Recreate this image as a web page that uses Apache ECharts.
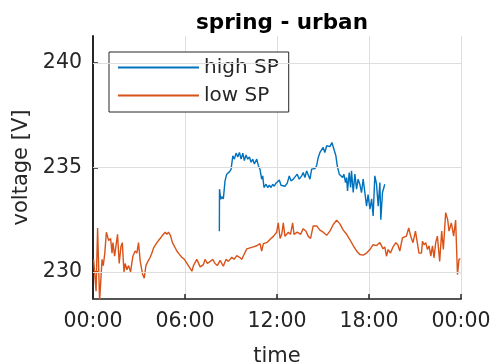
<!DOCTYPE html>
<html>
<head>
<meta charset="utf-8">
<script src="https://cdn.jsdelivr.net/npm/echarts@6/dist/echarts.min.js"></script>
<style>html,body{margin:0;padding:0;background:#fff}#c{width:494px;height:364px}</style>
</head>
<body>
<div id="c"></div>
<script>
// time in hours since midnight
var lowTime = [0.04,0.20,0.30,0.43,0.59,0.67,0.77,0.87,1.02,1.15,1.24,1.30,1.41,1.52,1.60,1.71,1.82,1.91,2.02,2.10,2.21,2.32,2.45,2.60,2.75,2.86,2.97,3.08,3.23,3.34,3.45,3.58,3.73,3.84,3.95,4.06,4.17,4.27,4.38,4.53,4.71,4.82,4.92,5.05,5.18,5.31,5.47,5.62,5.79,5.96,6.22,6.45,6.55,6.77,6.99,7.20,7.31,7.46,7.64,7.81,7.96,8.11,8.29,8.50,8.68,8.83,9.05,9.20,9.38,9.55,9.70,9.85,10.03,10.24,10.46,10.68,10.89,11.00,11.11,11.33,11.54,11.76,11.87,11.98,12.08,12.20,12.31,12.41,12.52,12.74,12.88,13.02,13.11,13.32,13.54,13.71,13.89,14.04,14.19,14.36,14.59,14.80,15.01,15.24,15.45,15.67,15.89,16.10,16.32,16.54,16.75,16.97,17.19,17.40,17.62,17.84,18.06,18.27,18.49,18.71,18.92,19.03,19.14,19.25,19.40,19.57,19.75,19.88,20.01,20.18,20.31,20.44,20.59,20.72,20.87,21.03,21.14,21.26,21.42,21.49,21.59,21.70,21.81,21.92,22.03,22.14,22.24,22.35,22.46,22.61,22.74,22.85,23.00,23.13,23.22,23.37,23.52,23.65,23.77,23.87,23.96];
var lowVolt = [230.6,229.07,232.1,228.6,230.6,230.3,230.9,231.9,231.5,231.6,230.9,231.4,230.75,230.8,231.8,230.4,231.2,231.4,230.0,230.4,230.1,230.3,230.0,230.75,231.0,230.9,231.4,230.5,229.9,229.7,230.3,230.5,230.7,230.9,231.15,231.1,231.4,231.5,231.6,231.75,231.9,231.8,231.9,231.75,231.4,231.4,231.0,230.85,230.7,230.6,230.3,230.03,230.3,230.6,230.24,230.35,230.6,230.4,230.5,230.6,230.4,230.3,230.55,230.27,230.6,230.5,230.7,230.6,230.78,230.7,230.6,230.83,231.1,231.15,231.2,231.25,231.35,231.0,231.35,231.4,231.55,231.7,231.7,231.9,232.35,231.6,231.8,232.35,231.7,231.9,231.8,232.35,231.8,231.9,231.8,232.07,231.95,231.7,231.6,232.2,232.2,232.0,231.9,231.75,231.95,232.27,232.48,232.3,232.0,231.8,231.55,231.26,231.0,230.83,230.8,230.9,231.07,231.3,231.26,231.4,231.1,231.2,230.75,231.07,230.9,231.2,231.4,231.3,231.0,231.63,231.55,231.71,232.1,231.71,231.4,231.95,231.9,230.9,230.9,231.47,231.3,231.4,231.07,231.25,230.75,231.25,230.67,231.4,231.71,230.5,231.95,231.07,232.84,232.5,231.95,232.35,231.71,232.48,229.87,230.6,230.63];
var highTime = [8.24,8.25,8.33,8.40,8.50,8.61,8.72,8.89,9.00,9.12,9.22,9.33,9.44,9.55,9.66,9.77,9.87,9.98,10.09,10.20,10.31,10.42,10.52,10.68,10.78,10.89,11.00,11.07,11.15,11.28,11.39,11.50,11.61,11.72,11.82,11.93,12.05,12.15,12.26,12.37,12.52,12.67,12.80,12.91,13.06,13.17,13.32,13.45,13.61,13.71,13.82,13.93,14.04,14.15,14.26,14.36,14.47,14.58,14.69,14.80,14.91,15.01,15.12,15.24,15.34,15.45,15.58,15.71,15.84,15.93,16.06,16.17,16.28,16.36,16.47,16.54,16.60,16.71,16.80,16.86,16.97,17.08,17.19,17.29,17.40,17.51,17.62,17.73,17.84,17.94,18.06,18.17,18.27,18.38,18.49,18.60,18.71,18.77,18.88,19.03];
var highVolt = [231.95,233.96,233.48,233.6,233.5,234.36,234.68,234.79,234.9,235.56,235.4,235.69,235.5,235.72,235.4,235.69,235.33,235.6,235.4,235.5,235.25,235.4,235.17,235.4,235.1,234.92,234.44,234.6,234.04,234.2,234.04,234.15,234.04,234.2,234.1,234.25,234.2,234.4,234.15,234.2,234.1,234.25,234.6,234.36,234.44,234.4,234.68,234.44,234.6,234.76,234.52,234.84,234.76,234.44,234.92,234.84,234.95,235.08,235.48,235.72,235.64,235.96,235.72,236.04,236.12,236.0,236.2,236.12,235.56,235.08,234.68,234.76,234.52,234.68,234.28,234.52,233.88,234.76,234.04,234.84,233.8,234.68,233.96,234.44,234.2,233.8,234.44,233.8,233.15,233.7,233.0,233.5,232.68,234.6,234.2,233.15,234.28,232.5,233.8,234.2];
var xTickLabels = ['00:00','06:00','12:00','18:00','00:00'];
var yTicks = [230, 235, 240];
var seriesNames = ['high SP', 'low SP'];

function pairs(t, v) { return t.map(function (x, i) { return [x, v[i]]; }); }

var FONT = '"DejaVu Sans", sans-serif';
var TXT = '#262626';
var chart = echarts.init(document.getElementById('c'), null, {renderer: 'canvas'});
chart.setOption({
  animation: false,
  backgroundColor: '#fff',
  title: {
    text: 'spring - urban', left: 277, top: 7, textAlign: 'center',
    textStyle: {fontFamily: FONT, fontSize: 21.5, fontWeight: 'bold', color: '#000'}
  },
  grid: {left: 93, right: 33, top: 36, bottom: 65, outerBoundsMode: 'none', containLabel: false},
  legend: {
    orient: 'vertical', left: 109, top: 52,
    data: seriesNames,
    itemWidth: 81, itemHeight: 14, itemGap: 7,
    padding: [5, 10, 6, 8],
    backgroundColor: '#fff', borderColor: '#262626', borderWidth: 1,
    itemStyle: {color: 'rgba(0,0,0,0)', borderColor: 'rgba(0,0,0,0)', borderWidth: 0},
    textStyle: {fontFamily: FONT, fontSize: 20, color: TXT, lineHeight: 21, padding: [0, 0, 0, 0]}
  },
  xAxis: {
    type: 'value', min: 0, max: 24, interval: 6,
    name: 'time', nameLocation: 'middle', nameGap: 47,
    nameTextStyle: {fontFamily: FONT, fontSize: 21, color: TXT},
    axisLine: {show: true, onZero: false, lineStyle: {color: '#555', width: 2}},
    axisTick: {show: true, inside: true, length: 5, lineStyle: {color: '#262626', width: 1.5}},
    axisLabel: {
      margin: 12, fontFamily: FONT, fontSize: 20.5, color: TXT,
      formatter: function (v) { return xTickLabels[Math.round(v / 6)]; }
    },
    splitLine: {show: true, lineStyle: {color: '#dedede', width: 1}}
  },
  yAxis: {
    type: 'value', min: 228.7, max: 241.3,
    name: 'voltage [V]', nameLocation: 'middle', nameGap: 55, nameRotate: 90,
    nameTextStyle: {fontFamily: FONT, fontSize: 21, color: TXT},
    axisLine: {show: true, onZero: false, lineStyle: {color: '#262626', width: 2}},
    axisTick: {show: true, inside: true, length: 5, customValues: yTicks, lineStyle: {color: '#262626', width: 1.5}},
    axisLabel: {margin: 11, fontFamily: FONT, fontSize: 20.5, color: TXT, customValues: yTicks},
    splitLine: {show: false}
  },
  series: [
    {
      name: seriesNames[0], type: 'line', symbol: 'none', data: pairs(highTime, highVolt),
      lineStyle: {color: '#0072BD', width: 1.4}, itemStyle: {color: '#0072BD'},
      markLine: {
        silent: true, symbol: 'none', label: {show: false},
        lineStyle: {color: '#dedede', width: 1, type: 'solid'},
        data: yTicks.map(function (y) { return {yAxis: y}; })
      },
      z: 3
    },
    {
      name: seriesNames[1], type: 'line', symbol: 'none', data: pairs(lowTime, lowVolt),
      lineStyle: {color: '#D95319', width: 1.4}, itemStyle: {color: '#D95319'},
      z: 2
    }
  ]
});
</script>
</body>
</html>
